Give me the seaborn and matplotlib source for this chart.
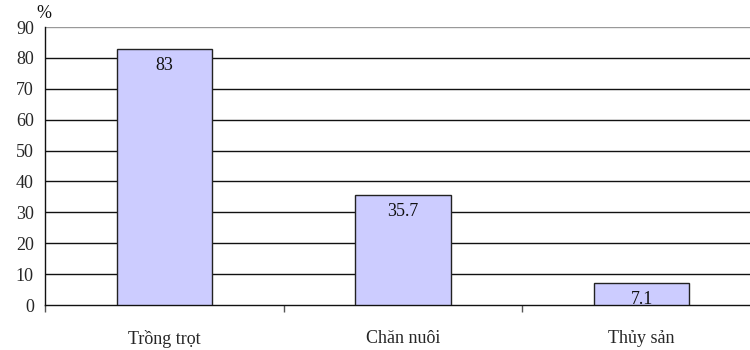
import matplotlib
matplotlib.use("Agg")
import matplotlib.pyplot as plt
import seaborn as sns
import pandas as pd
from matplotlib.ticker import FixedLocator

categories = ["Trồng trọt", "Chăn nuôi", "Thủy sản"]
values = [83, 35.7, 7.1]
value_labels = ["83", "35.7", "7.1"]
yticks = [0, 10, 20, 30, 40, 50, 60, 70, 80, 90]

sns.set_theme(style="white")
plt.rcParams["font.family"] = ["Liberation Serif", "DejaVu Serif"]

df = pd.DataFrame({"cat": categories, "val": values})

fig = plt.figure(figsize=(7.5, 3.5), dpi=100)
ax = fig.add_axes([45/750, (350-305)/350, 716/750, 278/350])

sns.barplot(data=df, x="cat", y="val", ax=ax, color="#CCCCFF", saturation=1,
            width=0.4, edgecolor="#222222", linewidth=1.0, zorder=3)

fs = 13
ax.set_xlim(-0.5, 2.5)
ax.set_ylim(0, 90)
ax.set_yticks(yticks)
ax.set_yticklabels([str(t) for t in yticks], fontsize=fs)
for t in yticks[1:]:
    ax.axhline(t, color="#111111" if t < 90 else "#999999", linewidth=1.0, zorder=1)

ax.set_xlabel("")
ax.set_ylabel("")
ax.tick_params(axis="x", which="major", length=0, labelsize=fs, pad=18)
ax.tick_params(axis="y", which="major", length=5, width=1, color="#111111", direction="out", pad=3)
ax.xaxis.set_minor_locator(FixedLocator([-0.5, 0.5, 1.5, 2.5]))
ax.tick_params(axis="x", which="minor", length=5, width=1, color="#555555", direction="out", bottom=True)

for s in ["top", "right"]:
    ax.spines[s].set_visible(False)
ax.spines["left"].set_color("#111111")
ax.spines["bottom"].set_color("#111111")
ax.spines["left"].set_linewidth(1.0)
ax.spines["bottom"].set_linewidth(1.0)

for p, lab in zip(ax.patches, value_labels):
    x = p.get_x() + p.get_width() / 2
    ax.annotate(lab, (x, p.get_height()), xytext=(0, -6), textcoords="offset points",
                ha="center", va="top", fontsize=fs, color="#111111", zorder=4)

fig.text(36/750, 1 - 13/350, "%", fontsize=fs, ha="left", va="center", color="#111111")

fig.savefig("out.png", dpi=100)
